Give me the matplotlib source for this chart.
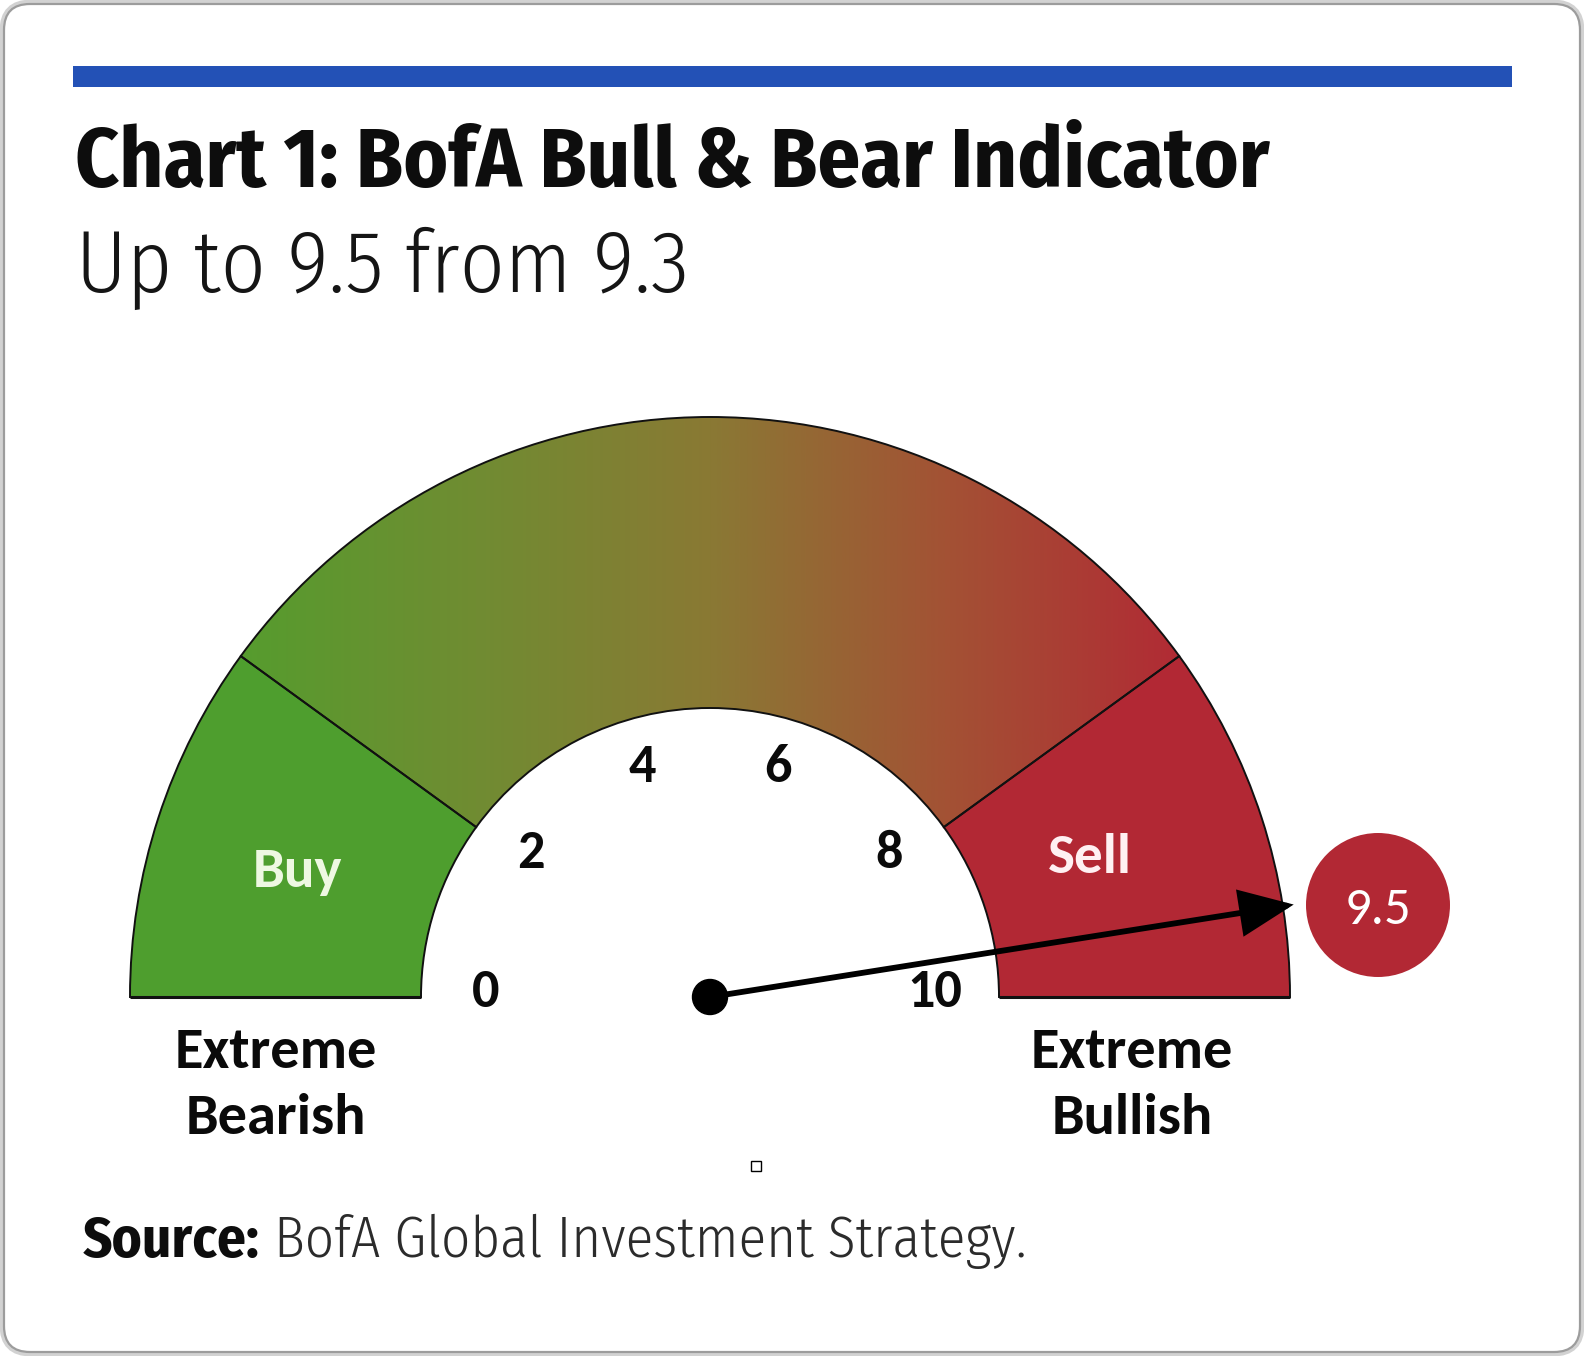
import numpy as np
import matplotlib
matplotlib.use("Agg")
import matplotlib.pyplot as plt
from matplotlib.patches import Wedge, Circle, FancyBboxPatch, Rectangle, FancyArrowPatch, ArrowStyle
from matplotlib.colors import LinearSegmentedColormap
from matplotlib import font_manager as fm

# ---------------- data ----------------
tick_values = [0, 2, 4, 6, 8, 10]
scale_min, scale_max = 0, 10
zone_bounds = [0, 2, 8, 10]
zone_labels = ["Buy", "", "Sell"]
current_value = 9.5
previous_value = 9.3
title_text = "Chart 1: BofA Bull & Bear Indicator"
subtitle_text = f"Up to {current_value} from {previous_value}"
end_labels = [["Extreme", "Bearish"], ["Extreme", "Bullish"]]
source_bold = "Source:"
source_rest = " BofA Global Investment Strategy."

# ---------------- fonts ----------------
names = {f.name for f in fm.fontManager.ttflist}


def pick(*cands):
    for c in cands:
        if c in names:
            return c
    return "DejaVu Sans"


COND = pick("Fira Sans Condensed", "Encode Sans Condensed", "Roboto Condensed", "PT Sans Narrow")
CALI = pick("Carlito", "Lato", "Open Sans")

# ---------------- figure ----------------
W, H = 1584, 1356
fig = plt.figure(figsize=(W / 100, H / 100), dpi=100)
fig.patch.set_facecolor("white")
ax = fig.add_axes([0, 0, 1, 1])
ax.set_xlim(0, W)
ax.set_ylim(0, H)
ax.axis("off")
renderer = fig.canvas.get_renderer()


def py(y):
    return H - y


def fit_width(t, target_px):
    t.set_fontsize(40)
    bb = t.get_window_extent(renderer)
    t.set_fontsize(40 * target_px / bb.width)


# frame
ax.add_patch(FancyBboxPatch((3, 3), W - 6, H - 6, boxstyle="round,pad=0,rounding_size=28",
                            fc="white", ec="#d2d2d2", lw=5, zorder=0))
ax.add_patch(FancyBboxPatch((4, 4), W - 8, H - 8, boxstyle="round,pad=0,rounding_size=26",
                            fc="white", ec="#9c9c9c", lw=1.6, zorder=0.1))

# blue bar
ax.add_patch(Rectangle((73, py(87)), 1512 - 73, 21, fc="#2351B6", ec="none", zorder=1))

# title & subtitle
tt = fig.text(75 / W, 1 - 187 / H, title_text, fontweight="bold",
              family=COND, color="#0d0d0d", va="baseline", ha="left")
fit_width(tt, 1193)
st = fig.text(76 / W, 1 - 292 / H, subtitle_text, fontweight=300,
              family=COND, color="#151515", va="baseline", ha="left")
fit_width(st, 613)

# ---------------- gauge ----------------
CX, CY = 710, py(997)
R_OUT, R_IN = 580, 289


def ang(v):
    return 180.0 - 180.0 * (v - scale_min) / (scale_max - scale_min)


GREEN = "#4E9E2E"
RED = "#B22834"
EDGE = dict(ec="#111111", lw=1.4)

buy = Wedge((CX, CY), R_OUT, ang(zone_bounds[1]), ang(zone_bounds[0]), width=R_OUT - R_IN,
            fc=GREEN, zorder=2, **EDGE)
sell = Wedge((CX, CY), R_OUT, ang(zone_bounds[3]), ang(zone_bounds[2]), width=R_OUT - R_IN,
             fc=RED, zorder=2, **EDGE)
mid = Wedge((CX, CY), R_OUT, ang(zone_bounds[2]), ang(zone_bounds[1]), width=R_OUT - R_IN,
            fc="none", zorder=3, **EDGE)
ax.add_patch(buy)
ax.add_patch(sell)
ax.add_patch(mid)

# heavier base edges of the end zones
for lo, hi in [(CX - R_OUT, CX - R_IN), (CX + R_IN, CX + R_OUT)]:
    ax.plot([lo, hi], [CY, CY], color="#111111", lw=2.2, solid_capstyle="butt", zorder=3.5)

grad_cmap = LinearSegmentedColormap.from_list(
    "g", [(0.0, (86/255, 156/255, 46/255)), (0.25, (112/255, 140/255, 50/255)),
          (0.5, (138/255, 121/255, 52/255)), (0.75, (163/255, 82/255, 52/255)),
          (1.0, (177/255, 43/255, 52/255))])
x0 = CX + R_OUT * np.cos(np.radians(ang(zone_bounds[1])))
x1 = CX + R_OUT * np.cos(np.radians(ang(zone_bounds[2])))
grad = np.linspace(0, 1, 512).reshape(1, -1)
im = ax.imshow(grad, extent=[x0, x1, CY, CY + R_OUT + 2], cmap=grad_cmap, aspect="auto",
               zorder=1.5, interpolation="bilinear")
clipw = Wedge((CX, CY), R_OUT, ang(zone_bounds[2]), ang(zone_bounds[1]), width=R_OUT - R_IN,
              transform=ax.transData)
im.set_clip_path(clipw)
ax.set_xlim(0, W)
ax.set_ylim(0, H)

# zone labels
ax.text(CX + 434 * np.cos(np.radians(ang(1))), CY + 434 * np.sin(np.radians(ang(1))) - 4,
        zone_labels[0], color="#EEF8E2", fontsize=41, fontweight="bold", family=CALI,
        ha="center", va="center_baseline", zorder=4)
ax.text(CX + 406 * np.cos(np.radians(ang(8.85))), CY + 406 * np.sin(np.radians(ang(8.85))),
        zone_labels[2], color="#FFF0F2", fontsize=41, fontweight="bold", family=CALI,
        ha="center", va="center_baseline", zorder=4)

# tick labels (on a slightly flattened ellipse inside the arc)
for v in tick_values:
    a = np.radians(178.0 - 17.6 * v)
    ax.text(CX + 225 * np.cos(a), CY + 245 * np.sin(a), str(v), fontsize=39,
            fontweight="bold", family=CALI, color="#0a0a0a", ha="center",
            va="center_baseline", zorder=5)

# end labels
for lbl, xc in zip(end_labels, [276, 1132]):
    ax.text(xc, py(1068), lbl[0], fontsize=42, fontweight="bold", family=CALI,
            color="#0a0a0a", ha="center", va="baseline")
    ax.text(xc, py(1134), lbl[1], fontsize=42, fontweight="bold", family=CALI,
            color="#0a0a0a", ha="center", va="baseline")

# needle
a = np.radians(ang(current_value))
R_TIP = 591
tip = (CX + R_TIP * np.cos(a), CY + R_TIP * np.sin(a))
arrow = FancyArrowPatch((CX, CY), tip,
                        arrowstyle=ArrowStyle("-|>", head_length=32, head_width=14),
                        mutation_scale=1, lw=4.2, color="black", shrinkA=0, shrinkB=0,
                        joinstyle="miter", zorder=6)
ax.add_patch(arrow)
ax.add_patch(Circle((CX, CY), 17.5, color="black", zorder=7))

# value badge
bx, by = 1378, py(905)
ax.add_patch(Circle((bx, by), 72, fc=RED, ec="none", zorder=6))
ax.text(bx, by, f"{current_value}", fontsize=38, family=CALI, color="white",
        ha="center", va="center_baseline", zorder=7)

# small square artifact
ax.plot([756], [py(1166)], marker="s", ms=7.5, mfc="white", mec="black", mew=1.0, zorder=5)

# source
t1 = fig.text(83 / W, 1 - 1257 / H, source_bold, fontweight="bold",
              family=COND, color="#0d0d0d", va="baseline", ha="left")
t2 = fig.text(0, 1 - 1257 / H, source_rest, fontweight=300,
              family=COND, color="#2b2b2b", va="baseline", ha="left")
t1.set_fontsize(40)
t2.set_fontsize(40)
w_tot = t1.get_window_extent(renderer).width + t2.get_window_extent(renderer).width
fs = 40 * 944 / w_tot
t1.set_fontsize(fs)
t2.set_fontsize(fs)
bb = t1.get_window_extent(renderer)
t2.set_x(bb.x1 / W)

fig.savefig("out.png", dpi=100, facecolor="white")
